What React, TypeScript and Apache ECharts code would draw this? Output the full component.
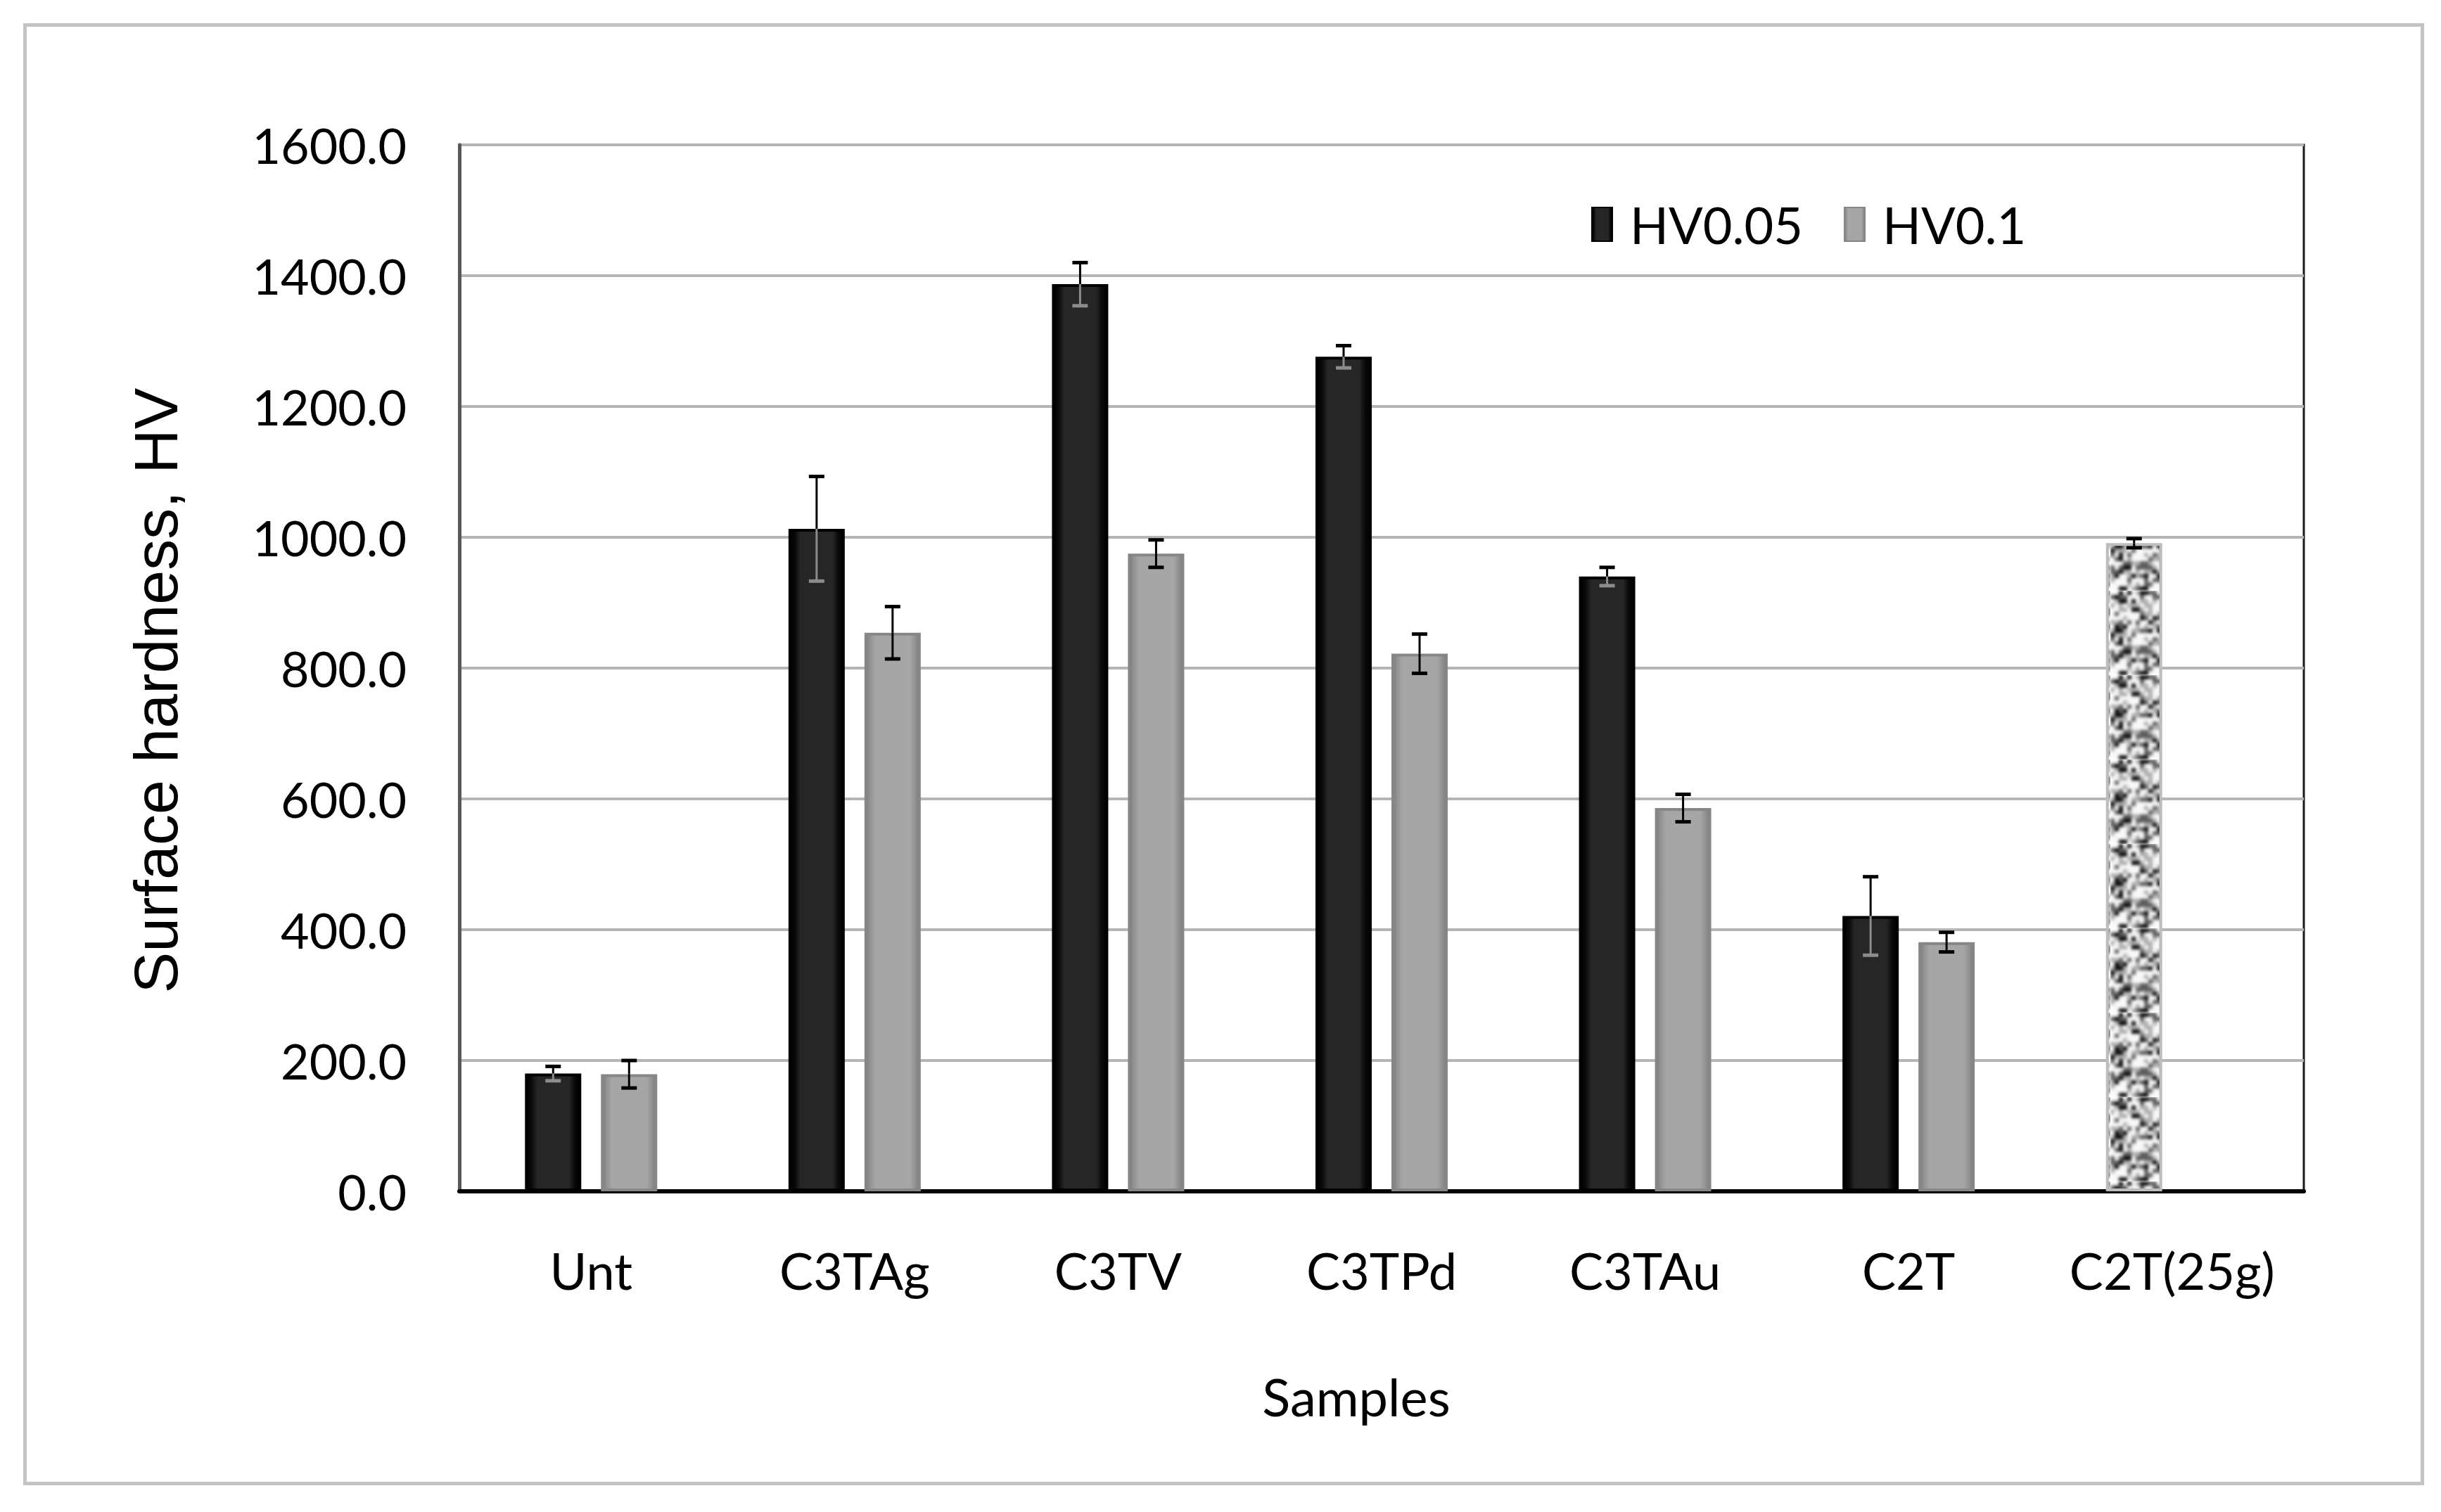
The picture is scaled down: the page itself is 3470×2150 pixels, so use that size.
import React, { useEffect, useRef } from "react";
import * as echarts from "echarts";

// ---------- data ----------
const categories = ["Unt", "C3TAg", "C3TV", "C3TPd", "C3TAu", "C2T", "C2T(25g)"];
const seriesNames = ["HV0.05", "HV0.1"];
const hv005 = [180, 1013, 1387, 1276, 940, 421, 991];
const hv005Err = [11, 80, 33, 17, 14, 60, 7];
const hv01: (number | null)[] = [179, 854, 975, 822, 586, 381, null];
const hv01Err: (number | null)[] = [21, 40, 21, 30, 21, 15, null];
const patternedCategories = ["C2T(25g)"];
const yMin = 0;
const yMax = 1600;
const yInterval = 200;
const yTitle = "Surface hardness, HV";
const xTitle = "Samples";

// ---------- style constants ----------
const BAR_W = 80;
const BAR_BORDER = 4;
const BAR_GAP_PX = 28;
const OFFSET = (BAR_W + BAR_GAP_PX) / 2;
const LABEL_FONT = "Lato";

function makeSpeckle(): HTMLCanvasElement {
  const size = 120;
  const cell = 6;
  const base = document.createElement("canvas");
  base.width = size;
  base.height = size;
  const ctx = base.getContext("2d")!;
  let s = 20231;
  const next = () => {
    s = (s * 1103515245 + 12345) & 0x7fffffff;
    return s / 0x7fffffff;
  };
  for (let y = 0; y < size; y += cell) {
    for (let x = 0; x < size; x += cell) {
      const r = next();
      const g = r < 0.15 ? 15 : r < 0.35 ? 95 : r < 0.6 ? 175 : 248;
      ctx.fillStyle = `rgb(${g},${g},${g})`;
      ctx.fillRect(x, y, cell, cell);
    }
  }
  const out = document.createElement("canvas");
  out.width = size;
  out.height = size;
  const o = out.getContext("2d")!;
  o.fillStyle = "#ffffff";
  o.fillRect(0, 0, size, size);
  o.filter = "blur(2px)";
  o.drawImage(base, 0, 0);
  return out;
}

function errorSeries(
  name: string,
  values: (number | null)[],
  errs: (number | null)[],
  offset: number,
  darkBar: boolean
) {
  const data: number[][] = [];
  values.forEach((v, i) => {
    const e = errs[i];
    if (v != null && e != null) data.push([i, v, e]);
  });
  return {
    type: "custom",
    name,
    silent: true,
    z: 10,
    encode: { x: 0, y: 1 },
    data,
    renderItem: (_params: any, api: any) => {
      const i = api.value(0);
      const v = api.value(1);
      const e = api.value(2);
      const c = api.coord([i, v]);
      const top = api.coord([i, v + e]);
      const bot = api.coord([i, v - e]);
      const x = c[0] + offset;
      const cap = 11;
      const lower =
        darkBar && patternedCategories.indexOf(categories[i]) < 0 ? "#8c8c8c" : "#000000";
      return {
        type: "group",
        children: [
          { type: "line", shape: { x1: x, y1: top[1], x2: x, y2: c[1] }, style: { stroke: "#000", lineWidth: 3 } },
          { type: "line", shape: { x1: x, y1: c[1], x2: x, y2: bot[1] }, style: { stroke: lower, lineWidth: 3 } },
          { type: "line", shape: { x1: x - cap, y1: top[1], x2: x + cap, y2: top[1] }, style: { stroke: "#000", lineWidth: 5 } },
          { type: "line", shape: { x1: x - cap, y1: bot[1], x2: x + cap, y2: bot[1] }, style: { stroke: lower, lineWidth: 5 } },
        ],
      };
    },
  };
}

export default function App() {
  const ref = useRef<HTMLDivElement>(null);

  useEffect(() => {
    if (!ref.current) return;
    const chart = echarts.init(ref.current, undefined, { renderer: "svg" });
    const speckle = makeSpeckle();

    const darkFill = {
      type: "linear", x: 0, y: 0, x2: 1, y2: 0,
      colorStops: [
        { offset: 0, color: "#000000" },
        { offset: 0.1, color: "#0a0a0a" },
        { offset: 0.2, color: "#262626" },
        { offset: 0.8, color: "#262626" },
        { offset: 0.9, color: "#0a0a0a" },
        { offset: 1, color: "#000000" },
      ],
    };
    const lightFill = {
      type: "linear", x: 0, y: 0, x2: 1, y2: 0,
      colorStops: [
        { offset: 0, color: "#7c7c7c" },
        { offset: 0.08, color: "#929292" },
        { offset: 0.18, color: "#a6a6a6" },
        { offset: 0.82, color: "#a6a6a6" },
        { offset: 0.92, color: "#929292" },
        { offset: 1, color: "#7c7c7c" },
      ],
    };

    const darkData = hv005.map((v, i) =>
      patternedCategories.indexOf(categories[i]) >= 0
        ? {
            value: v,
            itemStyle: {
              color: { image: speckle, repeat: "repeat" },
              borderColor: "#bdbdbd",
              borderWidth: BAR_BORDER,
            },
          }
        : v
    );

    chart.setOption({
      animation: false,
      backgroundColor: "#ffffff",
      grid: {
        left: 653,
        right: 195,
        top: 206,
        bottom: 456,
        show: true,
        borderColor: "#1a1a1a",
        borderWidth: 3,
        backgroundColor: "transparent",
      },
      legend: {
        data: seriesNames,
        left: 2257,
        top: 278,
        icon: "rect",
        itemWidth: 29,
        itemHeight: 48,
        itemGap: 58,
        textStyle: {
          fontFamily: LABEL_FONT,
          fontSize: 72,
          color: "#000",
          padding: [0, 0, 0, 20],
        },
      },
      xAxis: {
        type: "category",
        data: categories,
        axisTick: { show: false },
        axisLine: { lineStyle: { color: "#000", width: 6 } },
        axisLabel: {
          interval: 0,
          margin: 76,
          color: "#000",
          fontFamily: LABEL_FONT,
          fontSize: 72,
        },
      },
      yAxis: {
        type: "value",
        min: yMin,
        max: yMax,
        interval: yInterval,
        axisLine: { show: true, lineStyle: { color: "#595959", width: 5 } },
        axisTick: { show: false },
        splitLine: { lineStyle: { color: "#b5b5b5", width: 4 } },
        axisLabel: {
          margin: 75,
          color: "#000",
          fontFamily: LABEL_FONT,
          fontSize: 70,
          formatter: (v: number) => v.toFixed(1),
        },
      },
      graphic: [
        {
          type: "rect",
          left: 33,
          top: 33,
          shape: { x: 0, y: 0, width: 3408, height: 2074 },
          style: { fill: "none", stroke: "#c4c4c4", lineWidth: 5 },
          silent: true,
        },
        {
          type: "text",
          x: 221,
          y: 982,
          rotation: Math.PI / 2,
          style: {
            text: yTitle,
            font: '88px "Liberation Sans", Arial, sans-serif',
            fill: "#000",
            align: "center",
            verticalAlign: "middle",
          },
        },
        {
          type: "text",
          x: 1928,
          y: 1985,
          style: {
            text: xTitle,
            font: `74px ${LABEL_FONT}, sans-serif`,
            fill: "#000",
            align: "center",
            verticalAlign: "middle",
          },
        },
      ],
      series: [
        {
          name: seriesNames[0],
          type: "bar",
          barWidth: BAR_W,
          barGap: `${(BAR_GAP_PX / BAR_W) * 100}%`,
          data: darkData,
          itemStyle: { color: darkFill, borderColor: "#000", borderWidth: BAR_BORDER },
          emphasis: { disabled: true },
          z: 3,
        },
        {
          name: seriesNames[1],
          type: "bar",
          barWidth: BAR_W,
          data: hv01,
          itemStyle: { color: lightFill, borderColor: "#868686", borderWidth: BAR_BORDER },
          emphasis: { disabled: true },
          z: 3,
        },
        errorSeries("HV0.05 error", hv005, hv005Err, -OFFSET, true),
        errorSeries("HV0.1 error", hv01, hv01Err, OFFSET, false),
      ],
    });

    return () => chart.dispose();
  }, []);

  return (
    <div
      ref={ref}
      style={{ position: "absolute", left: 0, top: 0, width: 3470, height: 2150, background: "#fff" }}
    />
  );
}
